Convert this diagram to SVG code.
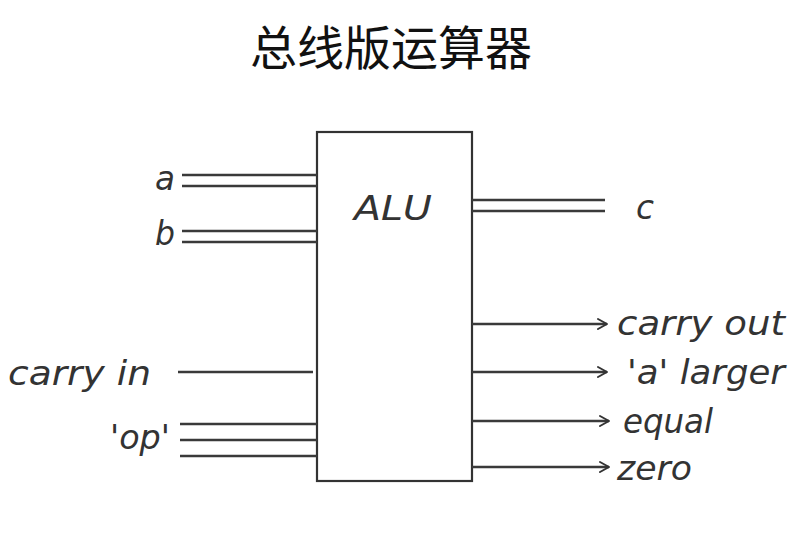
<svg xmlns="http://www.w3.org/2000/svg" width="798" height="536" viewBox="0 0 798 536">
<defs>
<marker id="arr" markerWidth="14" markerHeight="14" refX="12" refY="7" orient="auto" markerUnits="userSpaceOnUse">
<path d="M3,2 L12,7 L3,12" fill="none" stroke="#333" stroke-width="2" stroke-linecap="round" stroke-linejoin="round"/>
</marker>
<style>
.w{stroke:#3a3a3a;stroke-width:2.4;fill:none}
.lbl{font-family:"DejaVu Sans",sans-serif;font-style:oblique;font-size:33px;fill:#333}
.title{font-family:"Noto Sans CJK SC","Noto Sans CJK JP",sans-serif;font-size:47px;font-weight:400;fill:#111}
</style>
</defs>
<rect width="798" height="536" fill="#fff"/>
<text class="title" x="391" y="65" text-anchor="middle" textLength="282" lengthAdjust="spacingAndGlyphs">总线版运算器</text>
<g id="alu">
<rect x="317" y="132" width="155" height="349" fill="#fff" stroke="#333" stroke-width="2.2"/>
<text class="lbl" x="354" y="220" textLength="78" lengthAdjust="spacingAndGlyphs">ALU</text>
</g>
<g id="labels">
<text class="lbl" x="155" y="190" textLength="20" lengthAdjust="spacingAndGlyphs">a</text>
<text class="lbl" x="155" y="245" textLength="20" lengthAdjust="spacingAndGlyphs">b</text>
<text class="lbl" x="8" y="385" textLength="143" lengthAdjust="spacingAndGlyphs">carry in</text>
<text class="lbl" x="110" y="449" textLength="60" lengthAdjust="spacingAndGlyphs">'op'</text>
<text class="lbl" x="636" y="219" textLength="18" lengthAdjust="spacingAndGlyphs">c</text>
<text class="lbl" x="617" y="335" textLength="168" lengthAdjust="spacingAndGlyphs">carry out</text>
<text class="lbl" x="627" y="384" textLength="158" lengthAdjust="spacingAndGlyphs">'a' larger</text>
<text class="lbl" x="623" y="433" textLength="90" lengthAdjust="spacingAndGlyphs">equal</text>
<text class="lbl" x="617" y="480" textLength="75" lengthAdjust="spacingAndGlyphs">zero</text>
</g>
<g id="connectors">
<line class="w" x1="182" y1="175" x2="317" y2="175"/>
<line class="w" x1="182" y1="186" x2="317" y2="186"/>
<line class="w" x1="182" y1="231" x2="317" y2="231"/>
<line class="w" x1="182" y1="242" x2="317" y2="242"/>
<line class="w" x1="178" y1="372" x2="313" y2="372"/>
<line class="w" x1="180" y1="424" x2="317" y2="424"/>
<line class="w" x1="180" y1="440" x2="317" y2="440"/>
<line class="w" x1="180" y1="456" x2="317" y2="456"/>
<line class="w" x1="472" y1="200" x2="605" y2="200"/>
<line class="w" x1="472" y1="211" x2="605" y2="211"/>
<line class="w" x1="472" y1="324" x2="607" y2="324" marker-end="url(#arr)"/>
<line class="w" x1="472" y1="372" x2="607" y2="372" marker-end="url(#arr)"/>
<line class="w" x1="472" y1="421" x2="609" y2="421" marker-end="url(#arr)"/>
<line class="w" x1="472" y1="467" x2="609" y2="467" marker-end="url(#arr)"/>
</g>
</svg>
